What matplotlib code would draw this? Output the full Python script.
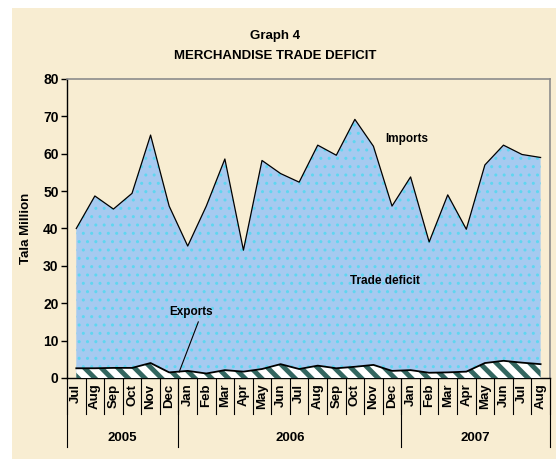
import matplotlib.pyplot as plt
import matplotlib.transforms as mtransforms
from matplotlib.patches import Rectangle
import numpy as np

plt.rcParams['font.family'] = ['Liberation Sans', 'DejaVu Sans']
plt.rcParams['font.weight'] = 'bold'

# monthly data, Jul 2005 - Aug 2007 (Tala million)
months = ["Jul", "Aug", "Sep", "Oct", "Nov", "Dec",
          "Jan", "Feb", "Mar", "Apr", "May", "Jun", "Jul", "Aug", "Sep", "Oct", "Nov", "Dec",
          "Jan", "Feb", "Mar", "Apr", "May", "Jun", "Jul", "Aug"]
years = ["2005", "2006", "2007"]
year_counts = [6, 12, 8]
imports = [40.0, 48.7, 45.2, 49.4, 65.0, 46.0, 35.3, 46.0, 58.6, 34.2, 58.2, 54.7, 52.4,
           62.3, 59.6, 69.2, 62.0, 46.0, 53.8, 36.4, 49.0, 39.8, 57.0, 62.3, 59.8, 59.0]
exports = [2.6, 2.6, 2.7, 2.7, 4.0, 1.5, 1.9, 1.2, 2.1, 1.7, 2.4, 3.7, 2.4,
           3.3, 2.6, 3.0, 3.5, 1.9, 2.1, 1.4, 1.5, 1.7, 4.0, 4.6, 4.1, 3.7]

x = np.arange(len(months))

fig = plt.figure(figsize=(5.56, 4.59), dpi=100)
fig.patch.set_facecolor('white')
# beige panel behind everything
fig.patches.append(Rectangle((0.022, 0.0), 0.978, 0.983, transform=fig.transFigure,
                             facecolor='#F8EDD2', edgecolor='none', zorder=-10))

ax = fig.add_axes([0.1205, 0.1765, 0.8685, 0.6514])
ax.set_zorder(1)
ax.set_facecolor('none')

# imports area with light pattern
ax.fill_between(x, 0, imports, facecolor='#A6CAF0', edgecolor='none', zorder=1)
plt.rcParams['hatch.linewidth'] = 1.0
ax.fill_between(x, 0, imports, facecolor='none', edgecolor='#5FD6F0', hatch='..',
                linewidth=0, zorder=2)
ax.plot(x, imports, color='black', lw=0.9, zorder=4)

# exports area, striped
plt.rcParams['hatch.linewidth'] = 3.5
ax.fill_between(x, 0, exports, facecolor='white', edgecolor='#336660', hatch='\\\\',
                linewidth=0, zorder=3)
ax.plot(x, exports, color='black', lw=1.3, zorder=4)

ax.set_xlim(-0.5, len(months) - 0.5)
ax.set_ylim(0, 80)
ax.set_yticks(range(0, 81, 10))
ax.tick_params(axis='y', direction='out', length=4, width=1, labelsize=10, pad=2)
ax.set_ylabel("Tala Million", fontsize=9.5, fontweight='bold', labelpad=8)

ax.set_xticks(x)
ax.set_xticklabels(months, rotation=90, fontsize=9.5, fontweight='bold')
ax.tick_params(axis='x', length=0, pad=4)
for lab in ax.get_xticklabels():
    lab.set_verticalalignment('top')

for s in ['top', 'right']:
    ax.spines[s].set_color('#8C8C8C')
    ax.spines[s].set_linewidth(1.2)
for s in ['left', 'bottom']:
    ax.spines[s].set_color('black')
    ax.spines[s].set_linewidth(1.0)

# category separators below axis
trans = mtransforms.blended_transform_factory(ax.transData, ax.transAxes)
for b in np.arange(-0.5, len(months), 1.0):
    ax.plot([b, b], [0, -0.12], color='black', lw=0.8, transform=trans, clip_on=False)
start = -0.5
for yr, n in zip(years, year_counts):
    ax.plot([start, start], [0, -0.23], color='black', lw=0.8, transform=trans, clip_on=False)
    ax.text(start + n / 2, -0.2, yr, transform=trans, ha='center', va='center',
            fontsize=9.5, fontweight='bold')
    start += n
ax.plot([start, start], [0, -0.23], color='black', lw=0.8, transform=trans, clip_on=False)

# labels inside chart
ax.text(17.8, 64, "Imports", ha='center', va='center', fontsize=8.5, fontweight='bold', zorder=5)
ax.text(16.6, 26, "Trade deficit", ha='center', va='center', fontsize=8.5, fontweight='bold', zorder=5)
ax.text(6.2, 17.7, "Exports", ha='center', va='center', fontsize=8.5, fontweight='bold', zorder=5)
ax.plot([6.57, 5.54], [15.0, 1.6], color='black', lw=0.8, zorder=5)

fig.text(0.495, 0.921, "Graph 4", ha='center', va='center', fontsize=9.5, fontweight='bold')
fig.text(0.495, 0.877, "MERCHANDISE TRADE DEFICIT", ha='center', va='center',
         fontsize=9.5, fontweight='bold')

fig.savefig("out.png", dpi=100)
